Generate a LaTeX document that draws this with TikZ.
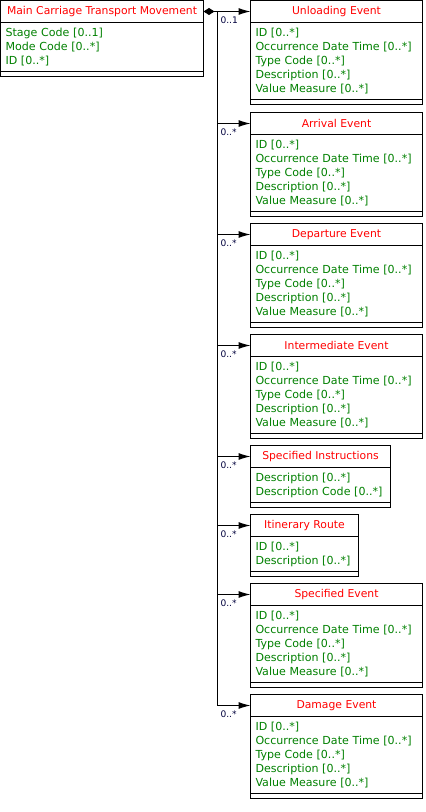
\documentclass[tikz,border=0pt]{standalone}
\usepackage{fontspec}
\usetikzlibrary{arrows.meta,positioning}
\newfontfamily\umlfont{DejaVu Sans}
\definecolor{umlred}{RGB}{255,0,0}
\definecolor{umlgreen}{RGB}{0,128,0}
\definecolor{umlnavy}{RGB}{0,0,60}

% one class box: name, x, y, width (px), lines, title, attributes
\newcommand{\classbox}[7]{%
  \pgfmathsetlengthmacro\clsw{#4*0.75pt}%
  \pgfmathsetlengthmacro\clstw{(#4-10)*0.75pt}%
  \pgfmathsetlengthmacro\clsh{(14*#5+7)*0.75pt}%
  \node[classtitle, minimum width=\clsw, anchor=north west] (#1) at (#2,#3) {#6};
  \node[classattr, text width=\clstw, minimum height=\clsh, anchor=north west] (#1-attr) at (#1.south west) {#7};
  \node[classfoot, minimum width=\clsw, anchor=north west] (#1-foot) at (#1-attr.south west) {};
}
\newcommand{\eventattrs}{ID [0..*]\\Occurrence Date Time [0..*]\\Type Code [0..*]\\Description [0..*]\\Value Measure [0..*]}

\begin{document}
\begin{tikzpicture}[x=0.75pt, y=-0.75pt, line width=0.75pt,
  classtitle/.style={draw, outer sep=0, inner sep=0, minimum height=16.5pt,
    font=\umlfont\fontsize{8.1}{10.5}\selectfont, text=umlred},
  classattr/.style={draw, outer sep=0, inner xsep=3.75pt, inner ysep=0, align=left,
    font=\umlfont\fontsize{8.3}{10.5}\selectfont, text=umlgreen},
  classfoot/.style={draw, outer sep=0, inner sep=0, minimum height=3.75pt},
  aggr/.style={{Diamond[length=8.25pt,width=5.25pt]}-},
  assoc/.style={-{Latex[length=9pt,width=5.25pt]}},
  mult/.style={font=\umlfont\fontsize{6.8}{8}\selectfont, text=umlnavy, inner sep=0,
    anchor=north west, xshift=2.25pt, yshift=-3.5pt}]

\useasboundingbox (0,0) rectangle (425,812);

%%%%%%%%%%%% Classes
\classbox{main}{0.5}{0.5}{203}{3}{Main Carriage Transport Movement}{Stage Code [0..1]\\Mode Code [0..*]\\ID [0..*]}
\classbox{unloading}{250.5}{0.5}{172}{5}{Unloading Event}{\eventattrs}
\classbox{arrival}{250.5}{112.5}{172}{5}{Arrival Event}{\eventattrs}
\classbox{departure}{250.5}{223.5}{172}{5}{Departure Event}{\eventattrs}
\classbox{intermediate}{250.5}{334.5}{172}{5}{Intermediate Event}{\eventattrs}
\classbox{instructions}{250.5}{445.5}{140}{2}{Specified Instructions}{Description [0..*]\\Description Code [0..*]}
\classbox{route}{250.5}{514.5}{108}{2}{Itinerary Route}{ID [0..*]\\Description [0..*]}
\classbox{specified}{250.5}{583.5}{172}{5}{Specified Event}{\eventattrs}
\classbox{damage}{250.5}{694.5}{172}{5}{Damage Event}{\eventattrs}

%%%%%%%%%%%% Associations
\coordinate[right=10.125pt of main.east] (trunk);
\draw[aggr] (main.east) -- (trunk);
\foreach \cls/\mlt in {unloading/0..1, arrival/0..*, departure/0..*, intermediate/0..*,
                       instructions/0..*, route/0..*, specified/0..*, damage/0..*}
  \draw[assoc] (trunk) |- (\cls.west) node[mult, pos=0.5] {\mlt};
\end{tikzpicture}
\end{document}
